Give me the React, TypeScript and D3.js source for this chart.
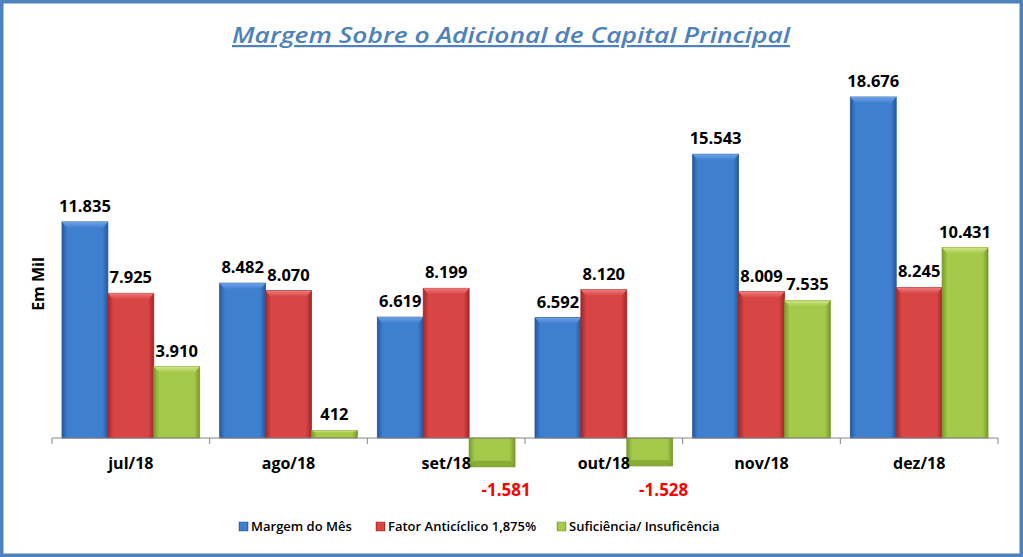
import React from "react";
import * as d3 from "d3";

const categories = ["jul/18", "ago/18", "set/18", "out/18", "nov/18", "dez/18"];
const seriesNames = ["Margem do Mês", "Fator Anticíclico 1,875%", "Suficiência/ Insuficência"];
const margem = [11835, 8482, 6619, 6592, 15543, 18676];
const fator = [7925, 8070, 8199, 8120, 8009, 8245];
const suficiencia = [3910, 412, -1581, -1528, 7535, 10431];
const valueLabels = [
  ["11.835", "8.482", "6.619", "6.592", "15.543", "18.676"],
  ["7.925", "8.070", "8.199", "8.120", "8.009", "8.245"],
  ["3.910", "412", "-1.581", "-1.528", "7.535", "10.431"],
];

const W = 1023;
const H = 557;
const colors = [
  { mid: "#3f7fd0", edge: "#24589e", light: "#6fa3e6" },
  { mid: "#d84545", edge: "#a32626", light: "#ef7c7c" },
  { mid: "#a5c94a", edge: "#789a2c", light: "#cfe686" },
];
const FONT = "'Open Sans', Calibri, sans-serif";

export default function App() {
  const series = [margem, fator, suficiencia];
  const x0 = d3.scaleBand<string>().domain(categories).range([52, 998]).paddingInner(0).paddingOuter(0);
  const inner = 10;
  const x1 = d3
    .scaleBand<number>()
    .domain([0, 1, 2])
    .range([inner, x0.bandwidth() - inner])
    .padding(0);
  const y = d3.scaleLinear().domain([0, 18676]).range([438, 97]);
  const base = y(0);

  return (
    <svg
      width={W}
      height={H}
      style={{ position: "absolute", left: 0, top: 0, background: "#fff" }}
      fontFamily={FONT}
    >
      <defs>
        {colors.map((c, i) => (
          <linearGradient key={i} id={`g${i}`} x1="0" x2="1" y1="0" y2="0">
            <stop offset="0" stopColor={c.edge} />
            <stop offset="0.12" stopColor={c.mid} />
            <stop offset="0.88" stopColor={c.mid} />
            <stop offset="1" stopColor={c.edge} />
          </linearGradient>
        ))}
        {colors.map((c, i) => (
          <linearGradient key={i} id={`t${i}`} x1="0" x2="0" y1="0" y2="1">
            <stop offset="0" stopColor={c.light} />
            <stop offset="1" stopColor={c.mid} />
          </linearGradient>
        ))}
      </defs>
      <rect x={1.5} y={1.5} width={W - 3} height={H - 3} fill="#fff" stroke="#4f81bd" strokeWidth={4} />

      <text
        x={511}
        y={43}
        textAnchor="middle"
        fontSize={22}
        fontStyle="italic"
        fontWeight={600}
        fill="#4f81bd"
        textLength={558}
        lengthAdjust="spacingAndGlyphs"
        style={{ textDecoration: "underline" }}
      >
        Margem Sobre o Adicional de Capital Principal
      </text>

      <text
        transform={`translate(44,284) rotate(-90)`}
        textAnchor="middle"
        fontSize={16}
        fontWeight={700}
        fill="#000"
      >
        Em Mil
      </text>

      {categories.map((cat, ci) => (
        <g key={cat} transform={`translate(${x0(cat)},0)`}>
          {series.map((s, si) => {
            const v = s[ci];
            const bx = x1(si)!;
            const bw = x1.bandwidth();
            const top = v >= 0 ? y(v) : base;
            const h = Math.abs(y(v) - base);
            const bev = Math.min(6, h / 3);
            return (
              <g key={si}>
                <rect x={bx} y={top} width={bw} height={h} fill={`url(#g${si})`} stroke={colors[si].edge} strokeWidth={0.8} />
                {v >= 0 ? (
                  <polygon
                    points={`${bx},${top} ${bx + bw},${top} ${bx + bw - 5},${top + bev} ${bx + 5},${top + bev}`}
                    fill={`url(#t${si})`}
                  />
                ) : (
                  <polygon
                    points={`${bx},${top + h} ${bx + bw},${top + h} ${bx + bw - 5},${top + h - bev} ${bx + 5},${top + h - bev}`}
                    fill={colors[si].edge}
                    opacity={0.6}
                  />
                )}
              </g>
            );
          })}
        </g>
      ))}

      <line x1={52} x2={998} y1={base} y2={base} stroke="#868686" strokeWidth={1} />
      {d3.range(categories.length + 1).map((i) => {
        const tx = 52 + i * x0.bandwidth();
        return <line key={i} x1={tx} x2={tx} y1={base} y2={base + 6} stroke="#868686" />;
      })}

      {categories.map((cat) => (
        <text key={cat} x={x0(cat)! + x0.bandwidth() / 2} y={469} textAnchor="middle" fontSize={16} fontWeight={700} fill="#000">
          {cat}
        </text>
      ))}

      {categories.map((cat, ci) =>
        series.map((s, si) => {
          const v = s[ci];
          const cx = x0(cat)! + x1(si)! + x1.bandwidth() / 2;
          if (v >= 0) {
            return (
              <text key={`${ci}-${si}`} x={cx} y={y(v) - 10} textAnchor="middle" fontSize={16.5} fontWeight={700} fill="#000">
                {valueLabels[si][ci]}
              </text>
            );
          }
          return (
            <text key={`${ci}-${si}`} x={cx + 14} y={496} textAnchor="middle" fontSize={17} fontWeight={700} fill="#ff0000">
              {valueLabels[si][ci]}
            </text>
          );
        })
      )}

      {seriesNames.map((name, i) => {
        const lx = [239, 376, 557][i];
        return (
          <g key={name}>
            <rect x={lx} y={522} width={9} height={9} fill={`url(#g${i})`} stroke={colors[i].edge} strokeWidth={0.5} />
            <text x={lx + 12} y={531} fontSize={13} fontWeight={600} fill="#000">
              {name}
            </text>
          </g>
        );
      })}
    </svg>
  );
}
